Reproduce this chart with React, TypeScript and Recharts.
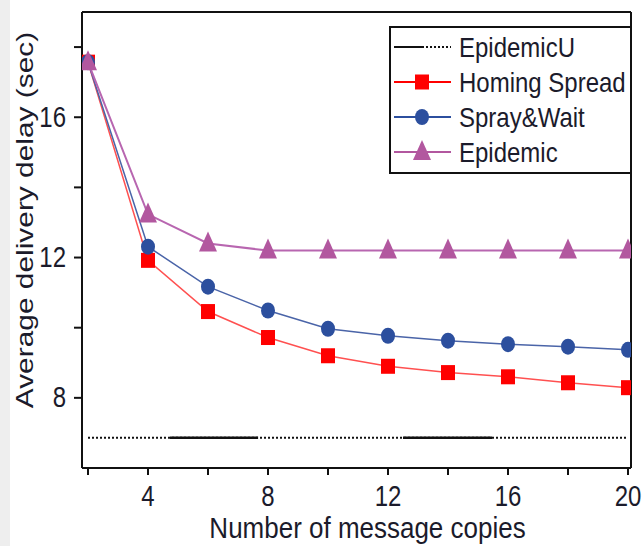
import React from "react";
import { LineChart, Line, XAxis, YAxis, Legend, ReferenceLine } from "recharts";

// x: number of message copies
const copies = [2, 4, 6, 8, 10, 12, 14, 16, 18, 20];
// average delivery delay (sec)
const homingSpread = [17.57, 11.92, 10.46, 9.72, 9.2, 8.9, 8.72, 8.6, 8.43, 8.29];
const sprayWait = [17.57, 12.31, 11.17, 10.49, 9.97, 9.77, 9.63, 9.53, 9.46, 9.37];
const epidemic = [17.57, 13.23, 12.4, 12.2, 12.2, 12.2, 12.2, 12.2, 12.2, 12.2];
const epidemicU = 6.86;
// the EpidemicU line is drawn solid over these copy ranges
const epidemicUSolid = [
  [4.73, 7.67],
  [12.5, 15.47],
];

const xTicks = [2, 4, 6, 8, 10, 12, 14, 16, 18, 20];
const xLabeled = [4, 8, 12, 16, 20];
const yTicks = [8, 10, 12, 14, 16, 18];
const yLabeled = [8, 12, 16];

const FONT = "'Liberation Sans', Arial, Helvetica, sans-serif";
const INK = "#1b1b2b";
const RED = "#ff0000";
const BLUE = "#2c4f9e";
const MAGENTA = "#b2579f";

const data = copies.map((c, i) => ({
  copies: c,
  homing: homingSpread[i],
  spray: sprayWait[i],
  epidemic: epidemic[i],
  epidemicU,
}));

const XTick = (props: any) => {
  const { x, y, payload } = props;
  if (!xLabeled.includes(payload.value)) return <g />;
  return (
    <g transform={`translate(${x},${y})`}>
      <text transform="scale(1,1.2)" y={24} textAnchor="middle" fontSize={24} fontFamily={FONT} fill={INK}>
        {payload.value}
      </text>
    </g>
  );
};

const YTick = (props: any) => {
  const { x, y, payload } = props;
  if (!yLabeled.includes(payload.value)) return <g />;
  return (
    <g transform={`translate(${x},${y})`}>
      <text transform="scale(1,1.2)" y={8} textAnchor="end" fontSize={24} fontFamily={FONT} fill={INK}>
        {payload.value}
      </text>
    </g>
  );
};

const Square = (props: any) => {
  const { cx, cy, index } = props;
  return <rect key={`sq-${index}`} x={cx - 7} y={cy - 7.5} width={14} height={15} fill={RED} />;
};

const Circle = (props: any) => {
  const { cx, cy, index } = props;
  return <ellipse key={`ci-${index}`} cx={cx} cy={cy} rx={7} ry={8} fill={BLUE} />;
};

const Triangle = (props: any) => {
  const { cx, cy, index } = props;
  return (
    <polygon
      key={`tr-${index}`}
      points={`${cx},${cy - 12} ${cx - 9},${cy + 8} ${cx + 9},${cy + 8}`}
      fill={MAGENTA}
    />
  );
};

const legendRows = [
  { name: "EpidemicU", color: "#111", marker: "none" },
  { name: "Homing Spread", color: RED, marker: "square" },
  { name: "Spray&Wait", color: BLUE, marker: "circle" },
  { name: "Epidemic", color: MAGENTA, marker: "triangle" },
];

const LegendBox = () => (
  <svg width={244} height={149} style={{ display: "block" }}>
    <rect x={1} y={1} width={241} height={146} fill="#fff" stroke="#111" strokeWidth={2} />
    {legendRows.map((r, i) => {
      const cy = 21 + i * 35;
      return (
        <g key={r.name}>
          {r.marker === "none" ? (
            <>
              <line x1={5} x2={33} y1={cy} y2={cy} stroke="#111" strokeWidth={2} />
              <line x1={33} x2={62} y1={cy} y2={cy} stroke="#111" strokeWidth={2} strokeDasharray="2 2" />
            </>
          ) : (
            <line x1={5} x2={62} y1={cy} y2={cy} stroke={r.color} strokeWidth={2} />
          )}
          {r.marker === "square" && <rect x={26} y={cy - 7.5} width={14} height={15} fill={RED} />}
          {r.marker === "circle" && <ellipse cx={33} cy={cy} rx={7} ry={8} fill={BLUE} />}
          {r.marker === "triangle" && (
            <polygon points={`33,${cy - 12} 24,${cy + 8} 42,${cy + 8}`} fill={MAGENTA} />
          )}
          <g transform={`translate(70,${cy})`}>
            <text transform="scale(1,1.17)" y={8.5} fontSize={24} fontFamily={FONT} fill={INK}>
              {r.name}
            </text>
          </g>
        </g>
      );
    })}
  </svg>
);

export default function App() {
  return (
    <div style={{ position: "absolute", left: 0, top: 0, width: 642, height: 546, background: "#fff", overflow: "hidden" }}>
      <div style={{ position: "absolute", left: 0, top: 0, width: 10, height: 546, background: "#eeeeee" }} />
      <div style={{ position: "absolute", left: 0, top: 0 }}>
        <LineChart width={642} height={546} data={data} margin={{ top: 12, right: 11, bottom: 0, left: 42 }}>
          <XAxis
            dataKey="copies"
            type="number"
            domain={[1.8, 20.1]}
            allowDataOverflow
            ticks={xTicks}
            interval={0}
            height={78}
            tickSize={7}
            tickMargin={2}
            stroke="#111"
            strokeWidth={2}
            tick={XTick}
            label={{
              content: (p: any) => {
                const vb = p.viewBox || {};
                return (
                  <g transform={`translate(${vb.x + vb.width / 2 + 11},${vb.y + 70})`}>
                    <text transform="scale(1,1.15)" textAnchor="middle" fontSize={26} fontFamily={FONT} fill={INK}>
                      Number of message copies
                    </text>
                  </g>
                );
              },
            }}
          />
          <XAxis
            xAxisId="top"
            orientation="top"
            dataKey="copies"
            type="number"
            domain={[1.8, 20.1]}
            allowDataOverflow
            ticks={xTicks}
            interval={0}
            mirror
            height={1}
            tickSize={9}
            stroke="#111"
            strokeWidth={2}
            tick={false}
          />
          <YAxis
            type="number"
            domain={[6, 19]}
            allowDataOverflow
            ticks={yTicks}
            interval={0}
            width={40}
            tickSize={8}
            tickMargin={8}
            stroke="#111"
            strokeWidth={2}
            tick={YTick}
            label={{
              content: (p: any) => {
                const vb = p.viewBox || {};
                return (
                  <g transform={`translate(${vb.x - 9},${vb.y + 208}) rotate(-90)`}>
                    <text transform="scale(1.3,1)" textAnchor="middle" fontSize={23} fontFamily={FONT} fill={INK}>
                      Average delivery delay (sec)
                    </text>
                  </g>
                );
              },
            }}
          />
          <YAxis
            yAxisId="right"
            orientation="right"
            type="number"
            domain={[6, 19]}
            allowDataOverflow
            ticks={yTicks}
            interval={0}
            mirror
            width={1}
            tickSize={5}
            stroke="#111"
            strokeWidth={2}
            tick={false}
          />
          <Legend
            layout="vertical"
            align="center"
            verticalAlign="middle"
            content={() => <LegendBox />}
            wrapperStyle={{ position: "absolute", left: 389, top: 26, width: 244, height: 149 }}
          />
          <Line
            dataKey="epidemicU"
            stroke="#111"
            strokeWidth={2}
            strokeDasharray="2 2"
            dot={false}
            isAnimationActive={false}
          />
          {epidemicUSolid.map(([a, b]) => (
            <ReferenceLine
              key={a}
              segment={[
                { x: a, y: epidemicU },
                { x: b, y: epidemicU },
              ]}
              stroke="#111"
              strokeWidth={2.5}
            />
          ))}
          <Line dataKey="homing" stroke="#ff5050" strokeWidth={1.5} dot={Square} isAnimationActive={false} />
          <Line dataKey="spray" stroke="#4a64a8" strokeWidth={1.5} dot={Circle} isAnimationActive={false} />
          <Line dataKey="epidemic" stroke="#b866b0" strokeWidth={2} dot={Triangle} isAnimationActive={false} />
        </LineChart>
      </div>
    </div>
  );
}
